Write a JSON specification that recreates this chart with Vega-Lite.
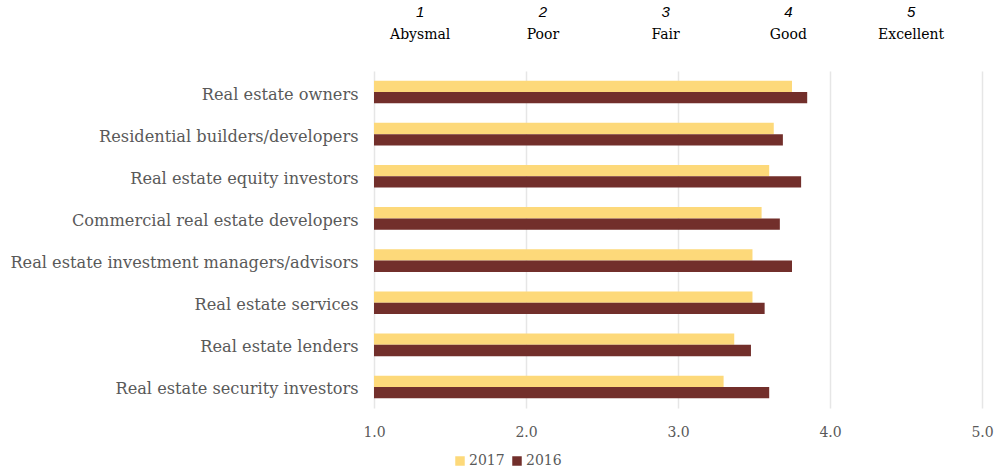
{
  "$schema": "https://vega.github.io/schema/vega-lite/v6.json",
  "autosize": "none",
  "width": 608,
  "height": 337,
  "padding": {"left": 374, "top": 71, "right": 14, "bottom": 67},
  "background": "white",
  "datasets": {
    "scores": [
      {"group": "Real estate owners", "year": "2017", "score": 3.75},
      {"group": "Real estate owners", "year": "2016", "score": 3.85},
      {"group": "Residential builders/developers", "year": "2017", "score": 3.63},
      {"group": "Residential builders/developers", "year": "2016", "score": 3.69},
      {"group": "Real estate equity investors", "year": "2017", "score": 3.60},
      {"group": "Real estate equity investors", "year": "2016", "score": 3.81},
      {"group": "Commercial real estate developers", "year": "2017", "score": 3.55},
      {"group": "Commercial real estate developers", "year": "2016", "score": 3.67},
      {"group": "Real estate investment managers/advisors", "year": "2017", "score": 3.49},
      {"group": "Real estate investment managers/advisors", "year": "2016", "score": 3.75},
      {"group": "Real estate services", "year": "2017", "score": 3.49},
      {"group": "Real estate services", "year": "2016", "score": 3.57},
      {"group": "Real estate lenders", "year": "2017", "score": 3.37},
      {"group": "Real estate lenders", "year": "2016", "score": 3.48},
      {"group": "Real estate security investors", "year": "2017", "score": 3.30},
      {"group": "Real estate security investors", "year": "2016", "score": 3.60}
    ],
    "ratings": [
      {"num": "1", "word": "Abysmal"},
      {"num": "2", "word": "Poor"},
      {"num": "3", "word": "Fair"},
      {"num": "4", "word": "Good"},
      {"num": "5", "word": "Excellent"}
    ]
  },
  "layer": [
    {
      "data": {"name": "scores"},
      "mark": {"type": "bar"},
      "encoding": {
        "y": {
          "field": "group",
          "type": "nominal",
          "sort": null,
          "scale": {"paddingInner": 0.463, "paddingOuter": 0.23},
          "axis": {
            "title": null,
            "ticks": false,
            "domain": false,
            "labelFont": "DejaVu Serif",
            "labelFontSize": 16.2,
            "labelColor": "#595959",
            "labelPadding": 16,
            "labelOffset": 2.5,
            "labelLimit": 400
          }
        },
        "yOffset": {"field": "year", "type": "nominal", "sort": ["2017", "2016"]},
        "x": {
          "field": "score",
          "type": "quantitative",
          "scale": {"domain": [1, 5], "zero": false, "nice": false},
          "axis": {
            "title": null,
            "values": [1, 2, 3, 4, 5],
            "format": ".1f",
            "ticks": false,
            "domain": false,
            "grid": true,
            "gridColor": "#e6e6e6",
            "gridWidth": 1.5,
            "labelFlush": false,
            "labelFont": "DejaVu Serif",
            "labelFontSize": 14,
            "labelColor": "#595959",
            "labelPadding": 17
          }
        },
        "x2": {"datum": 1},
        "color": {
          "field": "year",
          "type": "nominal",
          "sort": ["2017", "2016"],
          "scale": {"domain": ["2017", "2016"], "range": ["#FDD97A", "#722F2B"]},
          "legend": {
            "title": null,
            "orient": "none",
            "direction": "horizontal",
            "legendX": 79,
            "legendY": 383,
            "symbolType": "square",
            "symbolSize": 90,
            "symbolOpacity": 1,
            "symbolStrokeWidth": 0,
            "labelFont": "DejaVu Serif",
            "labelFontSize": 14,
            "labelColor": "#595959",
            "labelOffset": 2,
            "columnPadding": 5
          }
        }
      }
    },
    {
      "data": {"name": "ratings"},
      "mark": {"type": "point", "opacity": 0},
      "encoding": {
        "x": {
          "field": "word",
          "type": "nominal",
          "sort": null,
          "scale": {"type": "point", "padding": 0.477, "align": 0.39},
          "axis": {
            "orient": "top",
            "title": null,
            "ticks": false,
            "domain": false,
            "grid": false,
            "labelAngle": 0,
            "labelFont": "DejaVu Serif",
            "labelFontSize": 14,
            "labelColor": "#000000",
            "labelPadding": 30
          }
        }
      }
    },
    {
      "data": {"name": "ratings"},
      "mark": {"type": "point", "opacity": 0},
      "encoding": {
        "x": {
          "field": "num",
          "type": "nominal",
          "sort": null,
          "scale": {"type": "point", "padding": 0.477, "align": 0.39},
          "axis": {
            "orient": "top",
            "title": null,
            "ticks": false,
            "domain": false,
            "grid": false,
            "labelAngle": 0,
            "labelFont": "Liberation Sans",
            "labelFontStyle": "italic",
            "labelFontSize": 15,
            "labelColor": "#000000",
            "labelPadding": 52
          }
        }
      }
    }
  ],
  "resolve": {"scale": {"x": "independent"}, "axis": {"x": "independent"}},
  "config": {"view": {"stroke": null}}
}
